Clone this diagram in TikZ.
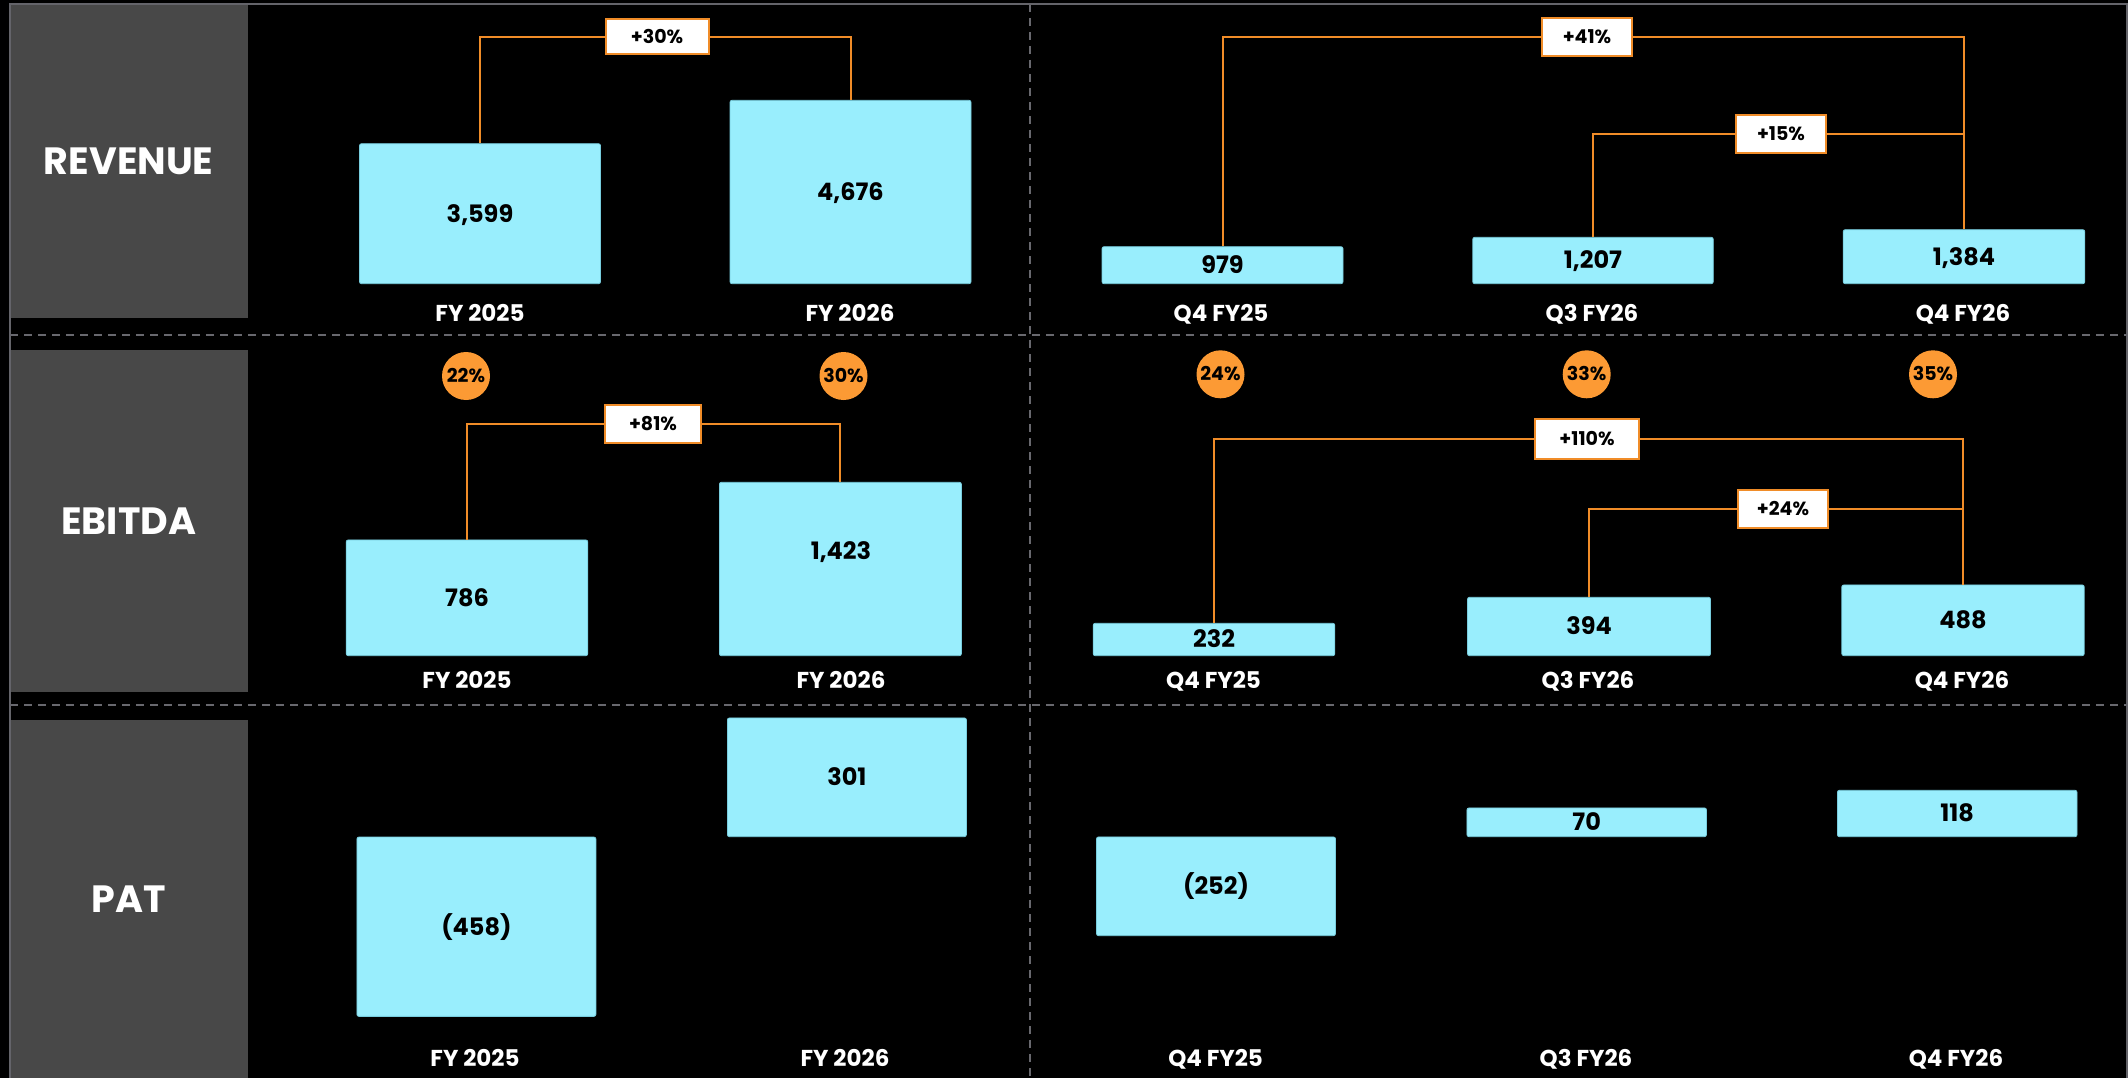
\documentclass[tikz,border=0pt]{standalone}
\usepackage{fontspec}
\setmainfont{Poppins}
\definecolor{barcyan}{RGB}{153,238,253}
\definecolor{baredge}{RGB}{120,205,222}
\definecolor{panelgray}{RGB}{72,72,72}
\definecolor{framegray}{RGB}{100,100,106}
\definecolor{dashgray}{RGB}{104,104,110}
\definecolor{conorange}{RGB}{240,140,40}
\definecolor{dotorange}{RGB}{252,154,52}
\begin{document}
\begin{tikzpicture}[x=1pt,y=-1pt,
  bar/.style={fill=barcyan, draw=baredge, line width=0.8pt, rounded corners=2pt, inner sep=0pt,
    text=black, font=\fontsize{24}{28}\selectfont\bfseries, text height=16.8pt, text depth=0pt},
  cat/.style={text=white, inner sep=0pt, font=\fontsize{23}{28}\selectfont\bfseries, text height=16.1pt, text depth=0pt},
  panel/.style={fill=panelgray, inner sep=0pt, text=white, font=\fontsize{38}{42}\selectfont\bfseries, text height=26.6pt, text depth=0pt},
  gbox/.style={fill=white, draw=conorange, line width=2pt, inner sep=0pt, text=black,
    font=\fontsize{19}{22}\selectfont\bfseries, text height=13.3pt, text depth=0pt},
  pct/.style={circle, fill=dotorange, inner sep=0pt, minimum size=48pt, text=black,
    font=\fontsize{19}{22}\selectfont\bfseries, text height=13.3pt, text depth=0pt},
  conn/.style={draw=conorange, line width=2pt},
  sep/.style={draw=dashgray, line width=2pt, dash pattern=on 8pt off 6pt},
  frameline/.style={draw=framegray, line width=2pt}
]
\fill[black] (0,0) rectangle (2128,1078);
\useasboundingbox (0,0) rectangle (2128,1078);

% separators
\draw[sep] (10,335) -- (2128,335);
\draw[sep] (10,705) -- (2128,705);
\draw[sep] (1030,4) -- (1030,1078);

% row panels
\node[panel, minimum width=238.5pt, minimum height=314pt] (pRev) at (128.75,161) {REVENUE};
\node[panel, minimum width=238.5pt, minimum height=341.7pt] (pEbit) at (128.75,520.85) {EBITDA};
\node[panel, minimum width=238.5pt, minimum height=358pt] (pPat) at (128.75,899) {PAT};

% frame
\draw[frameline] (10,1078) -- (10,4) -- (2127,4) -- (2127,1078);

% ---------- REVENUE ----------
\node[bar, minimum width=241pt, minimum height=140pt] (rA) at (480,213.7) {3,599};
\node[bar, minimum width=241pt, minimum height=183.4pt] (rB) at (850.5,192) {4,676};
\node[bar, minimum width=241pt, minimum height=37pt] (rC) at (1222.5,265.2) {979};
\node[bar, minimum width=240.5pt, minimum height=46.4pt] (rD) at (1593,260.5) {1,207};
\node[bar, minimum width=241.6pt, minimum height=54pt] (rE) at (1964,256.7) {1,384};

\node[cat] (rAl) at (480,313) {FY 2025};
\node[cat] (rBl) at (850,313) {FY 2026};
\node[cat] (rCl) at (1221,313) {Q4 FY25};
\node[cat] (rDl) at (1592,313) {Q3 FY26};
\node[cat] (rEl) at (1963,313) {Q4 FY26};

\node[gbox, minimum width=103pt, minimum height=35pt] (g1) at (657,37) {+30\%};
\node[gbox, minimum width=89.4pt, minimum height=37.7pt] (g2) at (1587,37) {+41\%};
\node[gbox, minimum width=90pt, minimum height=37.7pt] (g3) at (1781,134) {+15\%};

\draw[conn] (rA.north) |- (g1.west);
\draw[conn] (g1.east) -| (rB.north);
\draw[conn] (rC.north) |- (g2.west);
\draw[conn] (g2.east) -| (rE.north);
\draw[conn] (rD.north) |- (g3.west);
\draw[conn] (g3.east) -| (rE.north);

% ---------- EBITDA ----------
\node[pct] (mA) at (466,376) {22\%};
\node[pct] (mB) at (843.5,376) {30\%};
\node[pct] (mC) at (1220.5,374.3) {24\%};
\node[pct] (mD) at (1586.7,374.3) {33\%};
\node[pct] (mE) at (1933,374.3) {35\%};

\node[bar, minimum width=241.6pt, minimum height=115.7pt] (eA) at (467,597.8) {786};
\node[bar, minimum width=242pt, minimum height=173.4pt] (eB) at (840.4,569) {};
\node[bar, draw=none, fill=none, minimum width=0pt, minimum height=0pt] (eBv) at (841,550.7) {1,423};
\node[bar, minimum width=241.6pt, minimum height=32.4pt] (eC) at (1214,639.5) {232};
\node[bar, minimum width=243pt, minimum height=58.4pt] (eD) at (1589,626.5) {394};
\node[bar, minimum width=242.4pt, minimum height=70.7pt] (eE) at (1963,620.3) {488};

\node[cat] (eAl) at (467,680.7) {FY 2025};
\node[cat] (eBl) at (841,680.7) {FY 2026};
\node[cat] (eCl) at (1213.5,680.7) {Q4 FY25};
\node[cat] (eDl) at (1588,680.7) {Q3 FY26};
\node[cat] (eEl) at (1962,680.7) {Q4 FY26};

\node[gbox, minimum width=96.6pt, minimum height=38pt] (g4) at (653,423.7) {+81\%};
\node[gbox, minimum width=103.4pt, minimum height=40pt] (g5) at (1587,439.3) {+110\%};
\node[gbox, minimum width=90pt, minimum height=38pt] (g6) at (1783,509.3) {+24\%};

\draw[conn] (eA.north) |- (g4.west);
\draw[conn] (g4.east) -| (eB.north);
\draw[conn] (eC.north) |- (g5.west);
\draw[conn] (g5.east) -| (eE.north);
\draw[conn] (eD.north) |- (g6.west);
\draw[conn] (g6.east) -| (eE.north);

% ---------- PAT ----------
\node[bar, minimum width=239pt, minimum height=179.3pt] (pA) at (476.4,926.7) {(458)};
\node[bar, minimum width=239pt, minimum height=118.7pt] (pB) at (846.9,777.3) {301};
\node[bar, minimum width=239pt, minimum height=98.7pt] (pC) at (1216,886.3) {(252)};
\node[bar, minimum width=239.5pt, minimum height=28.7pt] (pD) at (1586.7,822.3) {70};
\node[bar, minimum width=239.6pt, minimum height=46.4pt] (pE) at (1957.2,813.5) {118};

\node[cat] (pAl) at (475,1058.3) {FY 2025};
\node[cat] (pBl) at (845,1058.3) {FY 2026};
\node[cat] (pCl) at (1215.6,1058.3) {Q4 FY25};
\node[cat] (pDl) at (1586,1058.3) {Q3 FY26};
\node[cat] (pEl) at (1956,1058.3) {Q4 FY26};
\end{tikzpicture}
\end{document}
